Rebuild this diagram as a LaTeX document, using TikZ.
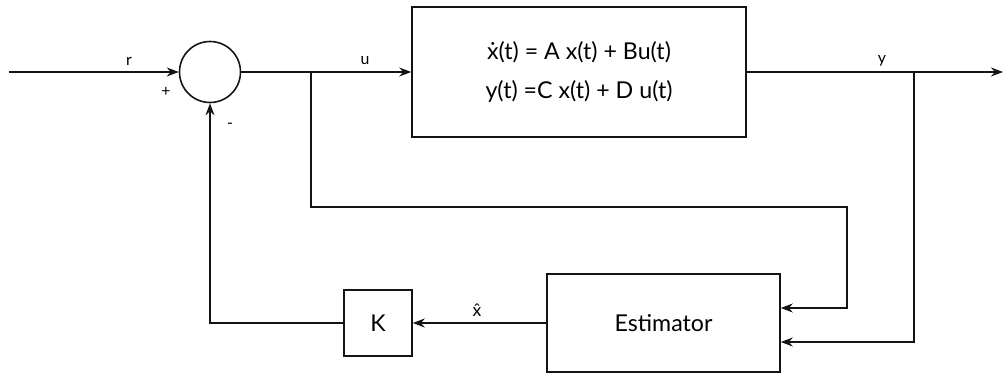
\documentclass[tikz,border=0pt]{standalone}
\usepackage{fontspec}
\setmainfont{Lato}
\usepackage{xcolor}
\definecolor{cLine}{HTML}{141414}
\usetikzlibrary{positioning,arrows.meta}
\tikzset{
  node-box/.style={draw=cLine,line width=0.9pt,inner sep=0pt,align=center},
  node-sum/.style={draw=cLine,line width=0.9pt,circle,minimum size=12.2mm,inner sep=0pt},
  arrow/.style={-{Stealth[length=2.4mm,width=1.8mm]},line width=0.9pt,draw=cLine},
  sig-label/.style={font=\small,inner sep=0pt},
}
\begin{document}
\begin{tikzpicture}[font=\fontsize{13.2}{16}\selectfont]
  \useasboundingbox (0,0) rectangle (20.12,7.5);
  \coordinate (in) at (0.18,6.06);
  \node[node-sum] (sum) at (4.2,6.06) {};
  \node[node-box,minimum width=66.8mm,minimum height=26mm] (plant) at (11.58,6.06)
    {\.{x}(t) = A x(t) + Bu(t)\\[2.2mm] y(t) =C x(t) + D u(t)};
  \coordinate (out) at (20.06,6.06);
  \node[node-box,minimum width=46.6mm,minimum height=19.6mm] (est) at (13.27,1.04) {Estimator};
  \node[node-box,minimum width=13.6mm,minimum height=13.2mm] (gain) at (7.56,1.04) {K};
  \coordinate (u-tap) at (6.22,6.06);
  \coordinate (u-turn) at (16.94,3.36);
  \coordinate (y-tap) at (18.28,6.06);
  % signal labels
  \node[sig-label] (r-lbl) at (2.58,6.28) {r};
  \node[sig-label] (u-lbl) at (7.30,6.28) {u};
  \node[sig-label] (y-lbl) at (17.64,6.28) {y};
  \node[sig-label] (plus-lbl) at (3.32,5.66) {+};
  \node[sig-label] (minus-lbl) at (4.60,4.98) {-};
  \node[sig-label,font=\normalsize] (xhat-lbl) at (9.54,1.30) {\^{x}};
  % connectors
  \draw[arrow] (in) -- (sum.west);
  \draw[arrow] (sum.east) -- (plant.west);
  \draw[arrow] (plant.east) -- (out);
  \draw[arrow] (u-tap) |- (u-turn) |- ([yshift=3mm]est.east);
  \draw[arrow] (y-tap) |- ([yshift=-3.8mm]est.east);
  \draw[arrow] (est.west) -- (gain.east);
  \draw[arrow] (gain.west) -| (sum.south);
\end{tikzpicture}
\end{document}
